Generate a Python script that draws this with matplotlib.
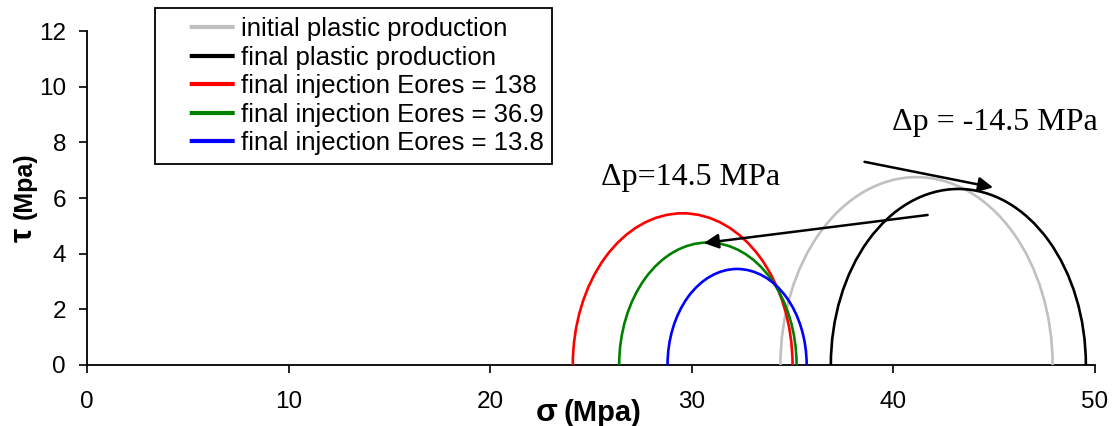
import matplotlib
matplotlib.use('Agg')
import matplotlib.pyplot as plt
from matplotlib.patches import Arc
from matplotlib.lines import Line2D

plt.rcParams['font.family'] = ['Liberation Sans', 'DejaVu Sans']
plt.rcParams['lines.scale_dashes'] = False

# Mohr circles: minor and major principal stress (MPa)
labels = ['initial plastic production', 'final plastic production',
          'final injection Eores = 138', 'final injection Eores = 36.9',
          'final injection Eores = 13.8']
sigma3 = [34.4, 36.9, 24.1, 26.4, 28.8]
sigma1 = [47.9, 49.55, 35.0, 35.2, 35.7]
colors = ['#c0c0c0', '#000000', '#ff0000', '#008000', '#0000ff']

xticks = [0, 10, 20, 30, 40, 50]
yticks = [0, 2, 4, 6, 8, 10, 12]

fig = plt.figure(figsize=(11.19, 4.26), dpi=100)
ax = fig.add_axes([0.0777, 0.1432, 0.9008, 0.784])

for s3, s1, c in zip(sigma3, sigma1, colors):
    centre = (s1 + s3) / 2
    diam = s1 - s3
    ax.add_patch(Arc((centre, 0), diam, diam, theta1=0, theta2=180,
                     color=c, lw=1.9))

ax.set_xlim(0, 50)
ax.set_ylim(0, 12)
ax.set_xticks(xticks)
ax.set_yticks(yticks)
ax.tick_params(axis='both', direction='out', length=6, width=1.2,
               labelsize=17.5)
ax.tick_params(axis='x', pad=13)
ax.tick_params(axis='y', pad=9)
for s in ['top', 'right']:
    ax.spines[s].set_visible(False)
for s in ['left', 'bottom']:
    ax.spines[s].set_linewidth(1.3)
ax.spines['bottom'].set_zorder(0.5)

# axis titles: the greek letter is drawn larger than the unit
ax.text(0.456, -0.144, 'σ', transform=ax.transAxes, fontsize=23,
        fontweight='bold', ha='center', va='center')
ax.text(0.511, -0.144, '(Mpa)', transform=ax.transAxes, fontsize=21,
        fontweight='bold', ha='center', va='center')
ax.text(-0.0625, 0.391, 'τ', transform=ax.transAxes, fontsize=23,
        fontweight='bold', ha='center', va='center', rotation=90)
ax.text(-0.0615, 0.537, '(Mpa)', transform=ax.transAxes, fontsize=18,
        fontweight='bold', ha='center', va='center', rotation=90)

# legend handles with a leading gap so the line sits right of the frame edge
handles = [Line2D([], [], color=c, lw=3, solid_capstyle='butt',
                  dash_capstyle='butt', linestyle=(0, (0.001, 18.5, 32.4, 500)))
           for c in colors]
leg = ax.legend(handles, labels, loc='upper left',
                bbox_to_anchor=(0.0675, 1.069), borderaxespad=0,
                fontsize=18.5, handlelength=2.75, handletextpad=0.23,
                labelspacing=0.18, borderpad=0.35, fancybox=False,
                framealpha=1)
leg.get_frame().set_edgecolor('black')
leg.get_frame().set_linewidth(1.3)

ax.annotate('', xy=(30.6, 4.38), xytext=(41.7, 5.39),
            arrowprops=dict(arrowstyle='-|>', color='black', lw=1.8,
                            mutation_scale=22, shrinkA=0, shrinkB=0))
ax.annotate('', xy=(44.95, 6.38), xytext=(38.57, 7.3),
            arrowprops=dict(arrowstyle='-|>', color='black', lw=1.8,
                            mutation_scale=22, shrinkA=0, shrinkB=0))
ax.text(29.94, 6.75, 'Δp=14.5 MPa', family='Liberation Serif',
        fontsize=23, ha='center', va='center')
ax.text(45.04, 8.7, 'Δp = -14.5 MPa', family='Liberation Serif',
        fontsize=23, ha='center', va='center')

fig.savefig('out.png', dpi=100)
